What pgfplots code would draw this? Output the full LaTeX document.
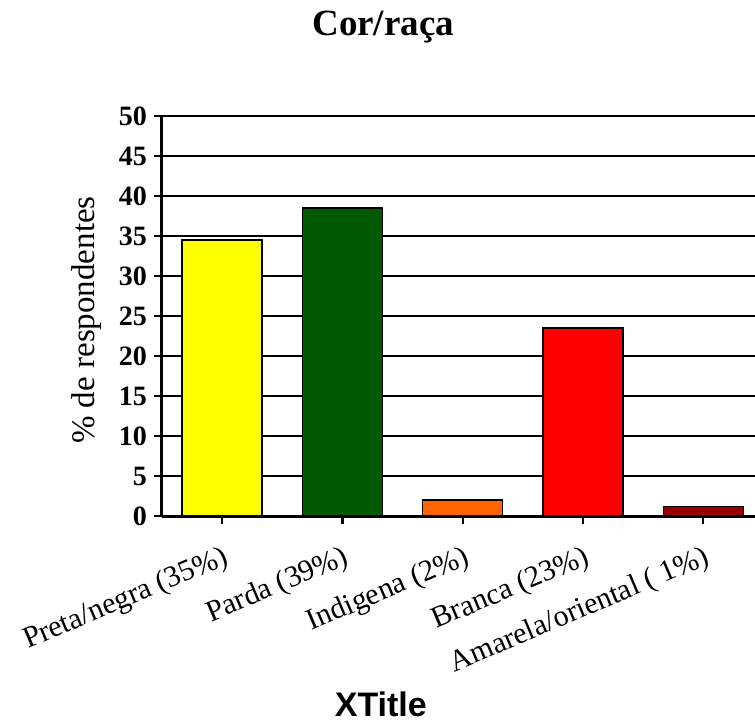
\documentclass[border=0pt]{standalone}
\usepackage{pgfplots}
\pgfplotsset{compat=1.18}
\usepackage{fontspec}
\setmainfont{Liberation Serif}
\newfontfamily\arial{Liberation Sans}
\definecolor{cyellow}{RGB}{255,255,0}
\definecolor{cgreen}{RGB}{0,90,0}
\definecolor{corange}{RGB}{255,102,0}
\definecolor{cred}{RGB}{255,0,0}
\definecolor{cdred}{RGB}{153,0,0}
\begin{document}
\begin{tikzpicture}
\begin{axis}[
  at={(0,0)}, anchor=south west,
  scale only axis, width=296.5pt, height=200pt,
  xmin=-0.5, xmax=4.43, ymin=0, ymax=50,
  ytick={0,5,...,50},
  xtick={0,1,2,3,4},
  xticklabels={Preta/negra (35\%), Parda (39\%), Indigena (2\%), Branca (23\%), Amarela/oriental ( 1\%)},
  axis x line*=bottom, axis y line*=left,
  tick align=outside, major tick length=4pt,
  tick style={black, line width=1.2pt},
  axis line style={black, line width=1.5pt},
  ymajorgrids, grid style={black, line width=0.75pt},
  ybar, bar width=40pt,
  /pgf/number format/assume math mode=true,
  yticklabel style={font=\fontsize{14}{14}\selectfont\bfseries},
  xticklabel style={font=\fontsize{15}{16}\selectfont, rotate=23, anchor=north east, inner sep=2pt, yshift=-7pt, xshift=-2pt},
  ylabel={\% de respondentes},
  ylabel style={font=\fontsize{16.5}{17}\selectfont, at={(axis description cs:-0.1265,0.49)}, anchor=center},
  xlabel={XTitle},
  xlabel style={font=\arial\bfseries\fontsize{17}{17}\selectfont, at={(axis description cs:0.369,-0.47)}, anchor=center},
  title={Cor/raça},
  title style={font=\bfseries\fontsize{18.5}{19}\selectfont, at={(axis description cs:0.373,1.1925)}, anchor=center},
]
\addplot[ybar, bar shift=0pt, draw=black, line width=0.75pt, fill=cyellow] coordinates {(0,34.5)};
\addplot[ybar, bar shift=0pt, draw=black, line width=0.75pt, fill=cgreen] coordinates {(1,38.5)};
\addplot[ybar, bar shift=0pt, draw=black, line width=0.75pt, fill=corange] coordinates {(2,2.0)};
\addplot[ybar, bar shift=0pt, draw=black, line width=0.75pt, fill=cred] coordinates {(3,23.5)};
\addplot[ybar, bar shift=0pt, draw=black, line width=0.75pt, fill=cdred] coordinates {(4,1.2)};
\end{axis}
\pgfresetboundingbox
\path[use as bounding box] (-81pt,-104pt) rectangle (296.5pt,258pt);
\end{tikzpicture}
\end{document}
